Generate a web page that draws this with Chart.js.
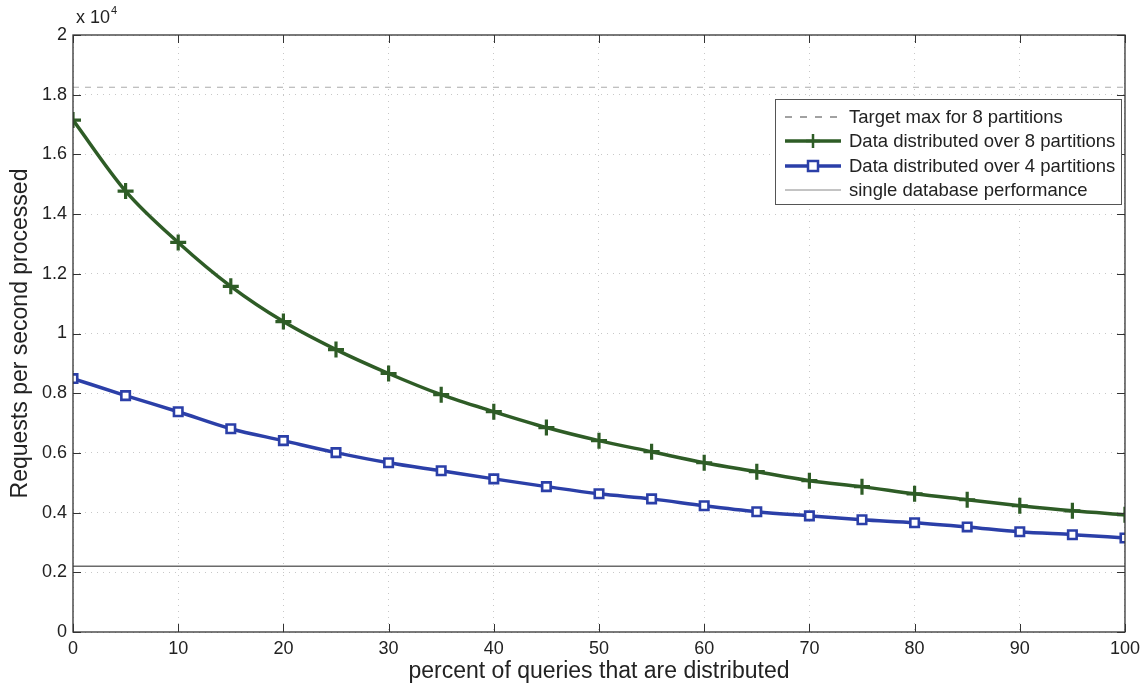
<!DOCTYPE html>
<html>
<head>
<meta charset="utf-8">
<script src="https://cdn.jsdelivr.net/npm/chart.js@4/dist/chart.umd.min.js"></script>
<style>
html,body{margin:0;padding:0;background:#fff;}
#wrap{width:1146px;height:685px;position:relative;}
</style>
</head>
<body>
<div id="wrap"><canvas id="c" width="1146" height="685"></canvas></div>
<script>
const percentDistributed = [0,5,10,15,20,25,30,35,40,45,50,55,60,65,70,75,80,85,90,95,100];
const eightPartitions = [17150,14770,13050,11580,10400,9460,8660,7950,7380,6850,6410,6040,5670,5370,5070,4870,4630,4430,4230,4060,3930];
const fourPartitions = [8490,7920,7380,6810,6410,6010,5670,5400,5130,4870,4630,4460,4230,4030,3890,3760,3660,3520,3360,3260,3150];
const targetMax = 18250;
const singleDb = 2200;
const xTicks = [0,10,20,30,40,50,60,70,80,90,100];
const yTicks = [0,2000,4000,6000,8000,10000,12000,14000,16000,18000,20000];
const legendLabels = ["Target max for 8 partitions","Data distributed over 8 partitions","Data distributed over 4 partitions","single database performance"];

const GREEN = '#2e5c26';
const BLUE = '#2b3fa8';
const FONT = '"Liberation Sans", Arial, Helvetica, sans-serif';

const toXY = (arr) => arr.map((v,i)=>({x:percentDistributed[i], y:v}));
const flat = (v) => [{x:percentDistributed[0], y:v},{x:percentDistributed[percentDistributed.length-1], y:v}];

const frame = {
  id:'frame',
  afterDraw(chart){
    const {ctx, chartArea:a, scales:{x,y}} = chart;
    ctx.save();
    ctx.strokeStyle = '#333';
    ctx.lineWidth = 1.3;
    ctx.strokeRect(a.left, a.top, a.right-a.left, a.bottom-a.top);
    const L = 8;
    ctx.lineWidth = 1;
    ctx.beginPath();
    xTicks.forEach(t=>{
      const px = Math.round(x.getPixelForValue(t))+0.5;
      ctx.moveTo(px,a.bottom); ctx.lineTo(px,a.bottom-L);
      ctx.moveTo(px,a.top); ctx.lineTo(px,a.top+L);
    });
    yTicks.forEach(t=>{
      const py = Math.round(y.getPixelForValue(t))+0.5;
      ctx.moveTo(a.left,py); ctx.lineTo(a.left+L,py);
      ctx.moveTo(a.right,py); ctx.lineTo(a.right-L,py);
    });
    ctx.stroke();
    // exponent label
    ctx.fillStyle = '#222';
    ctx.font = '18px ' + FONT;
    ctx.textBaseline = 'alphabetic';
    ctx.textAlign = 'left';
    ctx.fillText('x 10', a.left+3, a.top-12);
    const w = ctx.measureText('x 10').width;
    ctx.font = '11px ' + FONT;
    ctx.fillText('4', a.left+3+w+1, a.top-21);
    // legend
    const bx = 775, by = 99, bw = 346, bh = 105;
    ctx.fillStyle = '#fff';
    ctx.fillRect(bx,by,bw,bh);
    ctx.strokeStyle = '#555';
    ctx.lineWidth = 1;
    ctx.strokeRect(bx+0.5,by+0.5,bw,bh);
    const rows = [117,141,166,190];
    const x0 = 785, x1 = 841;
    ctx.font = '18.5px ' + FONT;
    ctx.textBaseline = 'middle';
    rows.forEach((ry,i)=>{
      ctx.save();
      if(i===0){ ctx.strokeStyle='#444'; ctx.lineWidth=1; ctx.setLineDash([7,8]); }
      else if(i===1){ ctx.strokeStyle=GREEN; ctx.lineWidth=3.5; }
      else if(i===2){ ctx.strokeStyle=BLUE; ctx.lineWidth=3.5; }
      else { ctx.strokeStyle='#888'; ctx.lineWidth=1; }
      ctx.beginPath(); ctx.moveTo(x0,ry); ctx.lineTo(x1,ry); ctx.stroke();
      ctx.setLineDash([]);
      const cx = (x0+x1)/2;
      if(i===1){ ctx.lineWidth=2.5; ctx.beginPath(); ctx.moveTo(cx-7,ry); ctx.lineTo(cx+7,ry); ctx.moveTo(cx,ry-7); ctx.lineTo(cx,ry+7); ctx.stroke(); }
      if(i===2){ ctx.lineWidth=2.5; ctx.fillStyle='#fff'; ctx.fillRect(cx-5,ry-5,10,10); ctx.strokeRect(cx-5,ry-5,10,10); }
      ctx.restore();
      ctx.fillStyle='#222';
      ctx.fillText(legendLabels[i], 849, ry+1);
    });
    ctx.restore();
  }
};

new Chart(document.getElementById('c'), {
  type:'line',
  data:{
    datasets:[
      {label:legendLabels[0], data:flat(targetMax), borderColor:'#aaa', borderWidth:1, borderDash:[6,6], pointRadius:0, fill:false},
      {label:legendLabels[1], data:toXY(eightPartitions), borderColor:GREEN, backgroundColor:GREEN, borderWidth:3.5, pointStyle:'cross', pointRadius:8, pointBorderWidth:3.2, pointBorderColor:GREEN, cubicInterpolationMode:'monotone', fill:false},
      {label:legendLabels[2], data:toXY(fourPartitions), borderColor:BLUE, backgroundColor:'#fff', borderWidth:3.5, pointStyle:'rect', pointRadius:6, pointBorderWidth:2.6, pointBorderColor:BLUE, pointBackgroundColor:'#fff', cubicInterpolationMode:'monotone', fill:false},
      {label:legendLabels[3], data:flat(singleDb), borderColor:'#6a6a6a', borderWidth:1.5, pointRadius:0, fill:false}
    ]
  },
  options:{
    responsive:false,
    animation:false,
    layout:{padding:{top:35,right:21,left:0,bottom:0}},
    plugins:{legend:{display:false}, tooltip:{enabled:false}},
    scales:{
      x:{
        type:'linear', min:0, max:100,
        afterBuildTicks(s){ s.ticks = xTicks.map(v=>({value:v})); },
        afterFit(s){ s.height = 53; },
        grid:{color:'#c8c8c8', lineWidth:1, drawTicks:false},
        border:{display:false, dash:[1,5]},
        ticks:{color:'#222', font:{family:FONT,size:18}, padding:6, maxRotation:0},
        title:{display:true, text:'percent of queries that are distributed', color:'#222', font:{family:FONT,size:23}, padding:{top:9,bottom:0}}
      },
      y:{
        type:'linear', min:0, max:20000,
        afterBuildTicks(s){ s.ticks = yTicks.map(v=>({value:v})); },
        afterFit(s){ s.width = 73; },
        grid:{color:'#c8c8c8', lineWidth:1, drawTicks:false},
        border:{display:false, dash:[1,5]},
        ticks:{color:'#222', font:{family:FONT,size:18}, padding:6, callback:(v)=>String(Math.round(v/1000)/10)},
        title:{display:true, text:'Requests per second processed', color:'#222', font:{family:FONT,size:23}, padding:{top:7,bottom:0}}
      }
    }
  },
  plugins:[frame]
});
</script>
</body>
</html>
